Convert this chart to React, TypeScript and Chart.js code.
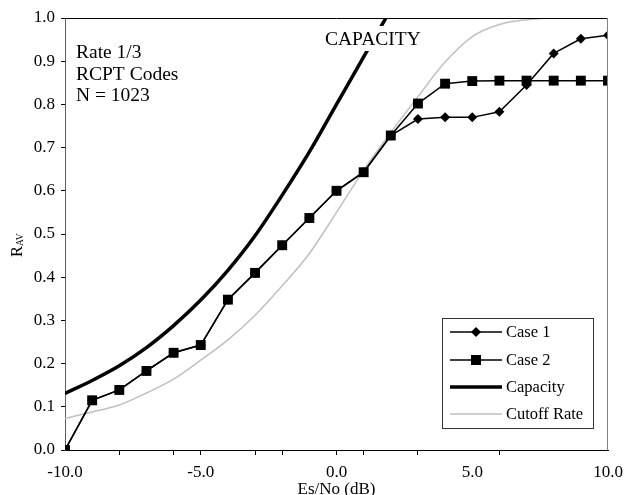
import React, { useEffect, useRef } from "react";
import { Chart, registerables } from "chart.js";

Chart.register(...registerables);

const caseX = [-10, -9, -8, -7, -6, -5, -4, -3, -2, -1, 0, 1, 2, 3, 4, 5, 6, 7, 8, 9, 10];
const case1 = [0.0, 0.115, 0.139, 0.183, 0.225, 0.243, 0.348, 0.41, 0.474, 0.537, 0.6, 0.643, 0.728, 0.766, 0.77, 0.77, 0.783, 0.845, 0.918, 0.952, 0.96];
const case2 = [0.0, 0.115, 0.139, 0.183, 0.225, 0.243, 0.348, 0.41, 0.474, 0.537, 0.6, 0.643, 0.728, 0.802, 0.848, 0.854, 0.855, 0.855, 0.855, 0.855, 0.855];
const capacityX = [-10, -9, -8, -7, -6, -5, -4, -3, -2, -1, 0, 1, 2];
const capacity = [0.131, 0.161, 0.195, 0.237, 0.288, 0.347, 0.416, 0.496, 0.59, 0.69, 0.8, 0.91, 1.02];
const cutoffX = [-10, -9, -8, -7, -6, -5, -4, -3, -2, -1, 0, 1, 2, 3, 4, 5, 6, 7, 8, 9, 10];
const cutoff = [0.073, 0.088, 0.104, 0.132, 0.164, 0.208, 0.255, 0.312, 0.38, 0.455, 0.55, 0.648, 0.735, 0.818, 0.898, 0.957, 0.985, 0.996, 1.0, 1.0, 1.0];
const xTickMarks = [-10, -8, -6, -5, -3, -2, 0, 1, 3, 5, 6, 10];
const xLabelled = [-10, -5, 0, 5, 10];
const xUnmarked = [-10, 5, 10];
const seriesNames = ["Case 1", "Case 2", "Capacity", "Cutoff Rate"];
const noteLines = ["Rate 1/3", "RCPT Codes", "N = 1023"];
const capacityLabel = "CAPACITY";
const xTitle = "Es/No (dB)";

const SERIF = '"Liberation Serif", "Times New Roman", serif';

const pts = (xs: number[], ys: number[]) => xs.map((x, i) => ({ x, y: ys[i] }));

const overlay = {
  id: "overlay",
  afterDatasetsDraw(chart: any) {
    const ctx = chart.ctx as CanvasRenderingContext2D;
    const a = chart.chartArea;
    ctx.save();
    // top & right borders
    ctx.lineWidth = 1;
    ctx.strokeStyle = "#000";
    ctx.beginPath();
    ctx.moveTo(a.left, a.top + 0.5);
    ctx.lineTo(a.right, a.top + 0.5);
    ctx.stroke();
    ctx.strokeStyle = "#808080";
    ctx.beginPath();
    ctx.moveTo(a.right - 0.5, a.top);
    ctx.lineTo(a.right - 0.5, a.bottom);
    ctx.stroke();

    // CAPACITY label with white mask
    ctx.fillStyle = "#fff";
    ctx.fillRect(321, 26, 106, 25);
    ctx.fillStyle = "#000";
    ctx.font = `19.5px ${SERIF}`;
    ctx.textBaseline = "alphabetic";
    ctx.textAlign = "left";
    ctx.fillText(capacityLabel, 325, 45);

    // note block
    const baselines = [58, 80, 101];
    noteLines.forEach((t, i) => ctx.fillText(t, 76, baselines[i]));

    // legend
    const lx = 442, ly = 318, lw = 151, lh = 110;
    ctx.fillStyle = "#fff";
    ctx.fillRect(lx, ly, lw, lh);
    ctx.strokeStyle = "#333";
    ctx.lineWidth = 1;
    ctx.strokeRect(lx + 0.5, ly + 0.5, lw, lh);
    const rows = [332, 360, 387, 414];
    chart.data.datasets.forEach((ds: any, i: number) => {
      const y = rows[i];
      ctx.strokeStyle = ds.borderColor;
      ctx.lineWidth = ds.borderWidth;
      ctx.beginPath();
      ctx.moveTo(450, y);
      ctx.lineTo(502, y);
      ctx.stroke();
      if (ds.pointRadius > 0) {
        ctx.fillStyle = "#000";
        if (ds.pointStyle === "rect") {
          ctx.fillRect(476 - 5, y - 5, 10, 10);
        } else {
          ctx.beginPath();
          ctx.moveTo(476 - 5, y);
          ctx.lineTo(476, y - 5);
          ctx.lineTo(476 + 5, y);
          ctx.lineTo(476, y + 5);
          ctx.closePath();
          ctx.fill();
        }
      }
      ctx.fillStyle = "#000";
      ctx.font = `16.5px ${SERIF}`;
      ctx.textBaseline = "middle";
      ctx.fillText(seriesNames[i], 506, y + 1);
    });

    // x title
    ctx.textAlign = "center";
    ctx.textBaseline = "alphabetic";
    ctx.font = `17px ${SERIF}`;
    ctx.fillText(xTitle, (a.left + a.right) / 2, 494);

    // y title R_AV
    ctx.translate(21.5, 257);
    ctx.rotate(-Math.PI / 2);
    ctx.textAlign = "left";
    ctx.font = `16.5px ${SERIF}`;
    ctx.fillText("R", 0, 0);
    const w = ctx.measureText("R").width;
    ctx.font = `9.5px ${SERIF}`;
    ctx.fillText("AV", w, 1);
    ctx.restore();
  },
};

export default function App() {
  const ref = useRef<HTMLCanvasElement>(null);
  useEffect(() => {
    document.body.style.margin = "0";
    const chart = new Chart(ref.current!, {
      type: "line",
      data: {
        datasets: [
          {
            label: seriesNames[0],
            data: pts(caseX, case1),
            borderColor: "#000",
            backgroundColor: "#000",
            borderWidth: 1.5,
            pointStyle: "rectRot",
            pointRadius: 5,
            pointBorderWidth: 0,
            order: 1,
          },
          {
            label: seriesNames[1],
            data: pts(caseX, case2),
            borderColor: "#000",
            backgroundColor: "#000",
            borderWidth: 1.5,
            pointStyle: "rect",
            pointRadius: 7,
            pointBorderWidth: 0,
            order: 0,
          },
          {
            label: seriesNames[2],
            data: pts(capacityX, capacity),
            borderColor: "#000",
            borderWidth: 3.5,
            pointRadius: 0,
            cubicInterpolationMode: "monotone",
            order: 2,
          },
          {
            label: seriesNames[3],
            data: pts(cutoffX, cutoff),
            borderColor: "#c0c0c0",
            borderWidth: 1.5,
            pointRadius: 0,
            cubicInterpolationMode: "monotone",
            order: 3,
          },
        ],
      },
      options: {
        animation: false,
        responsive: false,
        maintainAspectRatio: false,
        layout: { padding: { left: 0, top: 18, right: 16, bottom: 0 } },
        plugins: { legend: { display: false }, tooltip: { enabled: false } },
        scales: {
          x: {
            type: "linear",
            min: -10,
            max: 10,
            afterFit: (s: any) => {
              s.height = 45;
              s.paddingLeft = 0;
              s.paddingRight = 0;
            },
            afterBuildTicks: (s: any) => {
              s.ticks = xTickMarks.map((v) => ({ value: v }));
            },
            ticks: {
              autoSkip: false,
              maxRotation: 0,
              padding: 7,
              color: "#000",
              font: { family: SERIF, size: 17 },
              callback: (v: any) => (xLabelled.includes(Number(v)) ? Number(v).toFixed(1) : ""),
            },
            grid: {
              drawOnChartArea: false,
              tickLength: 5,
              tickColor: (c: any) => (c.tick && xUnmarked.includes(c.tick.value) ? "rgba(0,0,0,0)" : "#000"),
            },
            border: { color: "#000", width: 1 },
          },
          y: {
            type: "linear",
            min: 0,
            max: 1,
            afterFit: (s: any) => {
              s.width = 65;
              s.paddingTop = 0;
              s.paddingBottom = 0;
            },
            ticks: {
              stepSize: 0.1,
              padding: 6,
              color: "#000",
              font: { family: SERIF, size: 17 },
              callback: (v: any) => Number(v).toFixed(1),
            },
            grid: { drawOnChartArea: false, tickLength: 4, tickColor: "#000" },
            border: { color: "#606060", width: 1 },
          },
        },
      },
      plugins: [overlay],
    });
    return () => chart.destroy();
  }, []);
  return <canvas ref={ref} width={624} height={495} style={{ display: "block" }} />;
}
